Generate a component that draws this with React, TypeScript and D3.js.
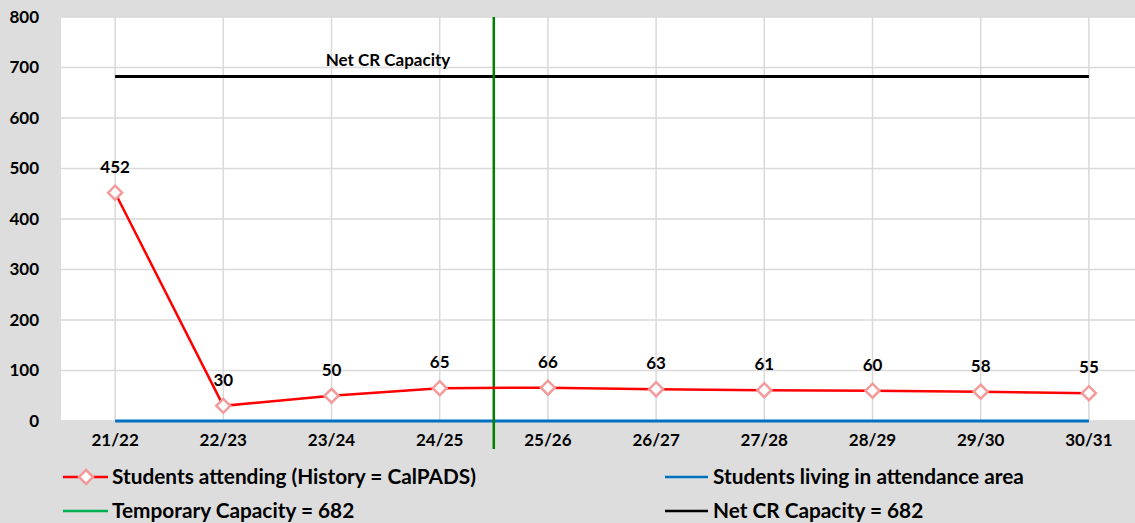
import React from "react";
import * as d3 from "d3";

const categories = ["21/22", "22/23", "23/24", "24/25", "25/26", "26/27", "27/28", "28/29", "29/30", "30/31"];
const attending = [452, 30, 50, 65, 66, 63, 61, 60, 58, 55];
const livingInArea = [0, 0, 0, 0, 0, 0, 0, 0, 0, 0];
const netCRCapacity = 682;
const temporaryCapacity = 682;
const yTicks = [0, 100, 200, 300, 400, 500, 600, 700, 800];
const dividerAfter = "24/25";

const W = 1135;
const H = 523;
const FONT = "Lato, 'Open Sans', sans-serif";

export default function App() {
  const x = d3.scaleBand<string>().domain(categories).range([61, 1143]);
  const cx = (c: string) => (x(c) as number) + x.bandwidth() / 2;
  const y = d3.scaleLinear().domain([0, 800]).range([421, 17]);

  const redLine = d3.line<number>().x((_, i) => cx(categories[i])).y((d) => y(d))(attending) as string;
  const blueLine = d3.line<number>().x((_, i) => cx(categories[i])).y((d) => y(d))(livingInArea) as string;
  const x0 = cx(categories[0]);
  const x1 = cx(categories[categories.length - 1]);
  const divX = (x(dividerAfter) as number) + x.bandwidth();

  const diamond = (px: number, py: number, r = 7) =>
    `M${px},${py - r}L${px + r},${py}L${px},${py + r}L${px - r},${py}Z`;

  return (
    <svg width={W} height={H} style={{ position: "absolute", left: 0, top: 0 }} fontFamily={FONT}>
      <defs>
        <filter id="soft" x="-50%" y="-50%" width="200%" height="200%">
          <feGaussianBlur stdDeviation="0.6" />
        </filter>
      </defs>
      <rect x={0} y={0} width={W} height={H} fill="#dddddd" />
      <rect x={61} y={17} width={W - 61} height={421 - 17} fill="#ffffff" />
      {/* gridlines */}
      {yTicks.map((t) => (
        <line key={"h" + t} x1={61} x2={W} y1={y(t)} y2={y(t)} stroke="#d9d9d9" strokeWidth={1.5} />
      ))}
      {categories.map((c) => (
        <line key={"v" + c} x1={cx(c)} x2={cx(c)} y1={17} y2={421} stroke="#d9d9d9" strokeWidth={1.5} />
      ))}
      {/* y tick labels */}
      {yTicks.map((t) => (
        <text key={"yl" + t} x={39} y={y(t)} dy="0.35em" textAnchor="end" fontSize={17} fontWeight="bold" fill="#000">
          {t}
        </text>
      ))}
      {/* x tick labels */}
      {categories.map((c) => (
        <text key={"xl" + c} x={cx(c)} y={446} textAnchor="middle" fontSize={17} fontWeight="bold" fill="#000">
          {c}
        </text>
      ))}
      {/* Net CR capacity */}
      <line x1={x0} x2={x1} y1={y(netCRCapacity)} y2={y(netCRCapacity)} stroke="#000" strokeWidth={3} />
      <text x={388} y={66} textAnchor="middle" fontSize={17} fontWeight="bold" fill="#000">
        Net CR Capacity
      </text>
      {/* blue living line */}
      <path d={blueLine} fill="none" stroke="#0070c0" strokeWidth={3} />
      {/* temporary capacity divider */}
      <line x1={divX} x2={divX} y1={17} y2={449} stroke="#008000" strokeWidth={2.5} data-value={temporaryCapacity} />
      {/* red attending line */}
      <path d={redLine} fill="none" stroke="#ff0000" strokeWidth={2.5} />
      {attending.map((v, i) => (
        <path
          key={"m" + i}
          d={diamond(cx(categories[i]), y(v))}
          fill="#ffffff"
          stroke="#f49a9a"
          strokeWidth={2.5}
          filter="url(#soft)"
        />
      ))}
      {attending.map((v, i) => (
        <text key={"dl" + i} x={cx(categories[i])} y={y(v) - 20} textAnchor="middle" fontSize={17} fontWeight="bold" fill="#000">
          {v}
        </text>
      ))}
      {/* legend */}
      <g>
        <line x1={63} x2={108} y1={477} y2={477} stroke="#ff0000" strokeWidth={2.5} />
        <path d={diamond(86, 477)} fill="#ffffff" stroke="#f49a9a" strokeWidth={2.5} filter="url(#soft)" />
        <text x={112} y={477} dy="0.35em" fontSize={20.8} fontWeight="bold" fill="#000">
          Students attending (History = CalPADS)
        </text>
        <line x1={665} x2={708} y1={477} y2={477} stroke="#0070c0" strokeWidth={2.5} />
        <text x={713} y={477} dy="0.35em" fontSize={20.8} fontWeight="bold" fill="#000">
          Students living in attendance area
        </text>
        <line x1={63} x2={108} y1={511} y2={511} stroke="#00b050" strokeWidth={2.5} />
        <text x={112} y={511} dy="0.35em" fontSize={20.8} fontWeight="bold" fill="#000">
          Temporary Capacity = {temporaryCapacity}
        </text>
        <line x1={665} x2={708} y1={511} y2={511} stroke="#000" strokeWidth={2.5} />
        <text x={713} y={511} dy="0.35em" fontSize={20.8} fontWeight="bold" fill="#000">
          Net CR Capacity = {netCRCapacity}
        </text>
      </g>
    </svg>
  );
}
